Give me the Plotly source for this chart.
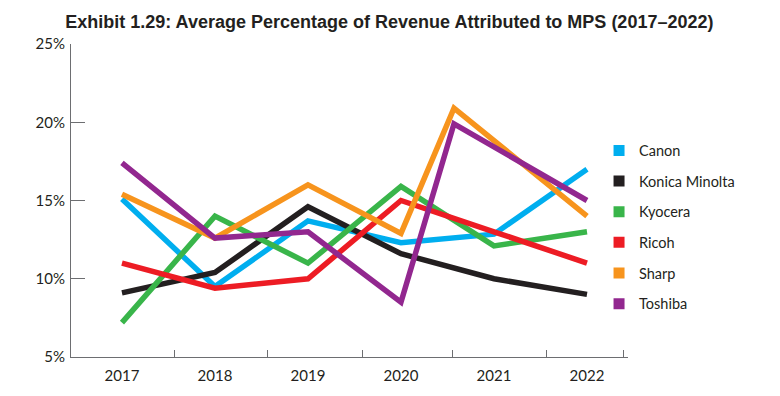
import plotly.graph_objects as go

years = [2017, 2018, 2019, 2020, 2021, 2022]
# Sharp and Toshiba peaks are drawn between 2020 and 2021 in the source chart
peak_years = [2017, 2018, 2019, 2020, 2020.57, 2022]

canon = [15.1, 9.5, 13.7, 12.3, 12.85, 17.0]
konica = [9.1, 10.4, 14.6, 11.6, 10.0, 9.0]
kyocera = [7.2, 14.0, 11.0, 15.9, 12.1, 13.0]
ricoh = [11.0, 9.4, 10.0, 15.0, 13.0, 11.0]
sharp = [15.4, 12.6, 16.0, 12.9, 20.9, 14.0]
toshiba = [17.4, 12.6, 13.0, 8.5, 19.9, 15.0]

names = ["Canon", "Konica Minolta", "Kyocera", "Ricoh", "Sharp", "Toshiba"]
colors = ["#00aeef", "#231f20", "#39b54a", "#ed1c24", "#f7941d", "#92278f"]
series = [(years, canon), (years, konica), (years, kyocera), (years, ricoh),
          (peak_years, sharp), (peak_years, toshiba)]

y_ticks = [5, 10, 15, 20, 25]
y_ticktext = ["5%", "10%", "15%", "20%", "25%"]
x_divider_ticks = [2017.57, 2018.56, 2019.59, 2020.55, 2021.57, 2022.39]

fig = go.Figure()
for name, color, (xs, ys) in zip(names, colors, series):
    fig.add_trace(go.Scatter(x=xs, y=ys, mode="lines", name=name,
                             line=dict(color=color, width=5.5),
                             showlegend=False, hoverinfo="skip"))
for i, (name, color) in enumerate(zip(names, colors)):
    fig.add_trace(go.Scatter(x=[None], y=[None], mode="markers", name=name,
                             marker=dict(color=color, symbol="square", size=11),
                             legendgroup=f"g{i}", showlegend=True))

font_family = "Lato, 'Open Sans', sans-serif"
# the page body adds an 8px margin, so the figure is 8px smaller on each axis
fig.update_layout(
    width=772, height=388,
    margin=dict(l=63, r=152, t=36.3, b=39.3),
    paper_bgcolor="white", plot_bgcolor="white",
    title=dict(text="<b>Exhibit 1.29: Average Percentage of Revenue Attributed to MPS (2017–2022)</b>",
               x=0.494, xref="container", xanchor="center", y=0.964, yanchor="middle",
               font=dict(family="Liberation Sans, Arial, sans-serif", size=18, color="#231f20")),
    showlegend=True,
    legend=dict(x=0.948, xanchor="left", y=0.711, yanchor="top",
                font=dict(family=font_family, size=14.5, color="#231f20"),
                tracegroupgap=8.8, bgcolor="rgba(0,0,0,0)",
                itemsizing="trace"),
    font=dict(family=font_family, size=15, color="#231f20"),
)
fig.update_xaxes(range=[2016.452, 2022.441], showgrid=False, zeroline=False,
                 showline=True, linecolor="#6d6e71", linewidth=1,
                 tickmode="array", tickvals=years, ticktext=[str(y) for y in years],
                 ticks="", ticklabelstandoff=5,
                 tickfont=dict(family=font_family, size=15, color="#231f20"),
                 minor=dict(tickmode="array", tickvals=x_divider_ticks, ticks="inside",
                            ticklen=7, tickcolor="#6d6e71", tickwidth=1, showgrid=False))
fig.update_yaxes(range=[5, 25], showgrid=False, zeroline=False,
                 showline=True, linecolor="#6d6e71", linewidth=1,
                 tickmode="array", tickvals=y_ticks, ticktext=y_ticktext,
                 ticks="inside", ticklen=14, tickcolor="#6d6e71", tickwidth=1,
                 ticklabelstandoff=2,
                 tickfont=dict(family=font_family, size=15, color="#231f20"))

fig.write_html("out.html")
